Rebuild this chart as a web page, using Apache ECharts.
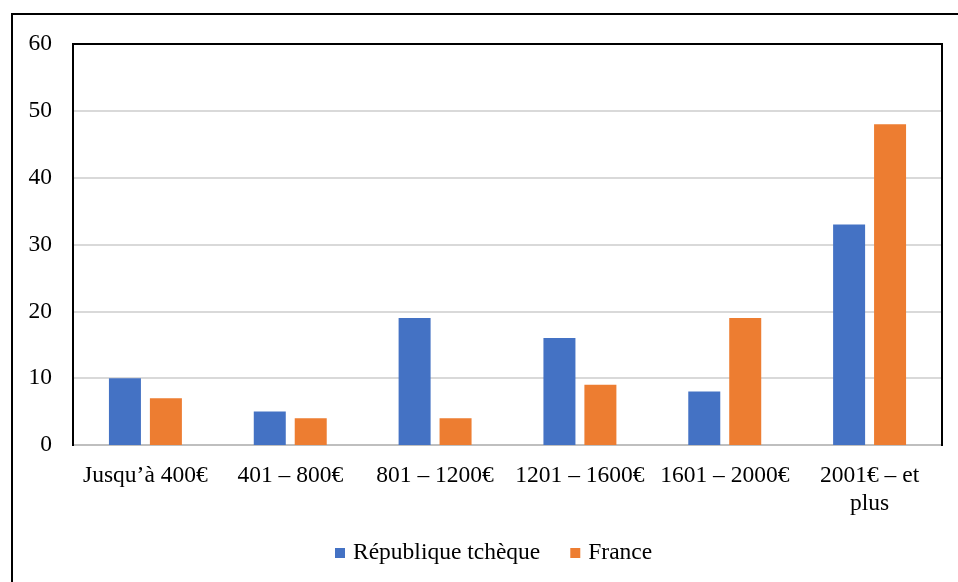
<!DOCTYPE html>
<html>
<head>
<meta charset="utf-8">
<script src="https://cdn.jsdelivr.net/npm/echarts@6/dist/echarts.min.js"></script>
<style>
  * { margin: 0; padding: 0; }
  body { background: #fff; }
</style>
</head>
<body>
<div id="main" style="width: 958px;height: 582px;"></div>
<script>
  // tranches de revenu
  var categories = ['Jusqu\u2019à 400€', '401 – 800€', '801 – 1200€', '1201 – 1600€', '1601 – 2000€', '2001€ – et\nplus'];
  var czech = [10, 5, 19, 16, 8, 33];
  var france = [7, 4, 4, 9, 19, 48];
  var serif = '"Liberation Serif", "DejaVu Serif", serif';

  var chart = echarts.init(document.getElementById('main'));
  chart.setOption({
    animation: false,
    textStyle: { fontFamily: serif },
    graphic: [
      { // cadre extérieur
        type: 'rect',
        shape: { x: 12, y: 14, width: 1000, height: 700 },
        style: { fill: 'none', stroke: '#000', lineWidth: 2 }
      },
      { // cadre de la zone de tracé (gauche, haut, droite)
        type: 'polyline',
        z: 100,
        shape: { points: [[73, 446], [73, 44], [942, 44], [942, 446]] },
        style: { fill: 'none', stroke: '#000', lineWidth: 2 }
      }
    ],
    legend: {
      left: 330,
      bottom: 12,
      icon: 'rect',
      itemWidth: 10,
      itemHeight: 10,
      itemGap: 30,
      textStyle: { fontFamily: serif, fontSize: 23.5, color: '#000', padding: [0, 0, 0, 3] },
      data: ['République tchèque', 'France']
    },
    grid: {
      left: 73,
      right: 16,
      top: 44,
      bottom: 137
    },
    xAxis: {
      type: 'category',
      data: categories,
      axisLine: { lineStyle: { color: '#bfbfbf', width: 2 } },
      axisTick: { show: false },
      axisLabel: { fontFamily: serif, fontSize: 23.5, color: '#000', margin: 17, interval: 0, lineHeight: 28 }
    },
    yAxis: {
      type: 'value',
      min: 0,
      max: 60,
      interval: 10,
      axisLine: { show: false },
      axisLabel: { fontFamily: serif, fontSize: 23.5, color: '#000', margin: 21 },
      splitLine: { lineStyle: { color: '#d9d9d9', width: 2 } }
    },
    series: [
      {
        name: 'République tchèque',
        type: 'bar',
        data: czech,
        barWidth: 32,
        barGap: '28%',
        itemStyle: { color: '#4472C4' }
      },
      {
        name: 'France',
        type: 'bar',
        data: france,
        barWidth: 32,
        itemStyle: { color: '#ED7D31' }
      }
    ]
  });
</script>
</body>
</html>
